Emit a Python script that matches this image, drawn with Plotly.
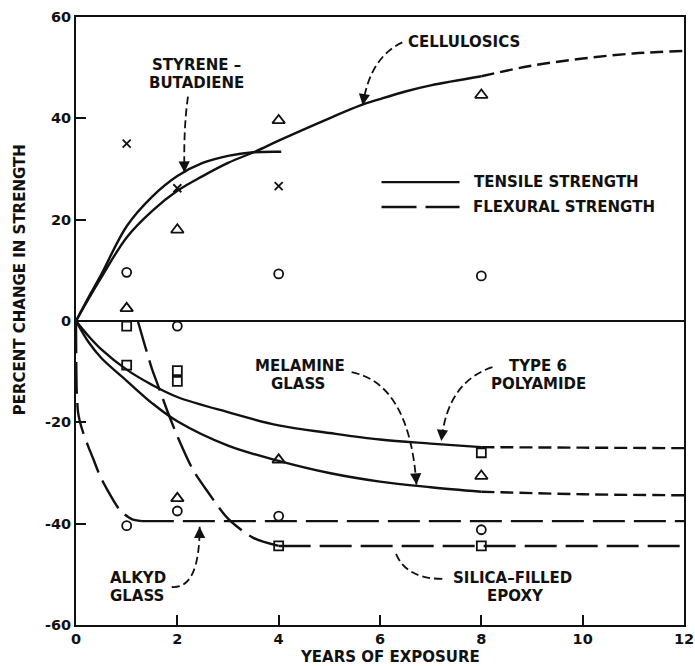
import plotly.graph_objects as go

# ---------------- data ----------------
x_ticks = [0, 2, 4, 6, 8, 10, 12]
x_tick_labels = ["0", "2", "4", "6", "8", "10", "12"]
y_ticks = [-60, -40, -20, 0, 20, 40, 60]
y_tick_labels = ["-60", "-40", "-20", "0", "20", "40", "60"]

cell_solid_x = [0, 0.25, 0.5, 1, 1.5, 2, 2.5, 3, 3.55, 4, 5, 5.6, 6, 6.5, 7, 8]
cell_solid_y = [0, 4.4, 8.6, 16.5, 21.7, 25.7, 28.6, 31.2, 33.5, 35.6, 40.0, 42.5, 43.8, 45.3, 46.5, 48.3]
cell_dash_x = [8, 9, 10, 11, 12]
cell_dash_y = [48.3, 50.4, 51.8, 52.8, 53.3]

styrene_x = [0, 0.25, 0.5, 1, 1.5, 2, 2.5, 3, 3.5, 4.05]
styrene_y = [0, 4.7, 9.2, 18.7, 24.5, 28.6, 31.2, 32.6, 33.3, 33.4]

polyamide_solid_x = [0, 0.25, 0.5, 1, 1.5, 2, 3, 4, 5, 6, 7, 8]
polyamide_solid_y = [0, -3.0, -5.6, -9.6, -12.6, -15.0, -18.0, -20.6, -22.1, -23.4, -24.2, -24.9]
polyamide_dash_x = [8, 10, 12]
polyamide_dash_y = [-24.9, -25.0, -25.1]

melamine_solid_x = [0, 0.25, 0.5, 1, 1.5, 2, 3, 4, 5, 6, 7, 8]
melamine_solid_y = [0, -4.2, -7.3, -11.8, -16.2, -19.8, -24.6, -27.6, -30.0, -31.7, -32.8, -33.7]
melamine_dash_x = [8, 10, 12]
melamine_dash_y = [-33.7, -34.2, -34.4]

alkyd_curve_x = [0, 0.005, 0.015, 0.04, 0.08, 0.14, 0.25, 0.34, 0.47, 0.6, 0.87, 1.1, 1.3]
alkyd_curve_y = [0, -8, -14, -18, -20, -22, -25, -27.2, -30.5, -33, -37.4, -39.1, -39.5]
alkyd_flat_x = [1.3, 12]
alkyd_flat_y = [-39.5, -39.5]

epoxy_curve_x = [1.22, 1.35, 1.5, 1.6, 1.85, 2.05, 2.3, 2.6, 3.0, 3.5, 4]
epoxy_curve_y = [0, -4.5, -9.5, -12.2, -19, -23.9, -29.2, -33.7, -39.0, -42.8, -44.4]
epoxy_flat_x = [4, 12]
epoxy_flat_y = [-44.4, -44.4]

cross_x = [1, 2, 4]
cross_y = [35, 26.2, 26.6]
triangle_x = [1, 2, 4, 8, 2, 4, 8]
triangle_y = [2.5, 18, 39.6, 44.6, -35, -27.4, -30.6]
circle_x = [1, 4, 8, 2, 1, 2, 4, 8]
circle_y = [9.6, 9.3, 8.9, -1, -40.4, -37.5, -38.5, -41.2]
square_x = [1, 1, 2, 2, 4, 8, 8]
square_y = [-1, -8.7, -9.8, -11.9, -44.4, -26, -44.4]

# callout labels: (text, x, y)
labels = [
    ("STYRENE –", 2.38, 50.5),
    ("BUTADIENE", 2.38, 46.9),
    ("MELAMINE", 4.43, -8.9),
    ("GLASS", 4.39, -12.4),
    ("TYPE 6", 9.12, -8.9),
    ("POLYAMIDE", 9.12, -12.4),
    ("ALKYD", 1.23, -50.7),
    ("GLASS", 1.21, -54.3),
    ("SILICA–FILLED", 8.62, -50.7),
    ("EPOXY", 8.68, -54.3),
]
# callout arrows: start, control, tip
callouts = [
    ((2.21, 44.3), (2.12, 38.0), (2.14, 29.3)),
    ((6.44, 55.0), (5.80, 52.0), (5.66, 42.6)),
    ((5.44, -10.1), (6.58, -12.4), (6.72, -32.3)),
    ((8.22, -9.1), (7.33, -12.0), (7.21, -23.7)),
    ((1.89, -52.5), (2.44, -53.0), (2.44, -40.6)),
    ((7.23, -50.9), (6.48, -50.9), (6.29, -45.3)),
]

BLACK = "#111111"
FONT = dict(family="DejaVu Sans", size=15, color=BLACK, weight="bold")
LONG_DASH = "32px,9px"
SHORT_DASH = "13px,6px"
LW = 2.4

fig = go.Figure()


def curve(x, y, dash="solid", smoothing=1.0, shape="spline"):
    fig.add_trace(go.Scatter(
        x=x, y=y, mode="lines",
        line=dict(color=BLACK, width=LW, dash=dash, shape=shape, smoothing=smoothing),
        hoverinfo="skip", showlegend=False))


curve(cell_solid_x, cell_solid_y)
curve(cell_dash_x, cell_dash_y, SHORT_DASH)
curve(styrene_x, styrene_y)
curve(polyamide_solid_x, polyamide_solid_y)
curve(polyamide_dash_x, polyamide_dash_y, SHORT_DASH)
curve(melamine_solid_x, melamine_solid_y)
curve(melamine_dash_x, melamine_dash_y, SHORT_DASH)
curve(alkyd_curve_x, alkyd_curve_y, LONG_DASH, 0.6)
curve(alkyd_flat_x, alkyd_flat_y, LONG_DASH, shape="linear")
curve(epoxy_curve_x, epoxy_curve_y, LONG_DASH, 0.8)
curve(epoxy_flat_x, epoxy_flat_y, LONG_DASH, shape="linear")


def markers(x, y, symbol, size):
    fig.add_trace(go.Scatter(
        x=x, y=y, mode="markers",
        marker=dict(symbol=symbol, size=size, color=BLACK,
                    line=dict(color=BLACK, width=1.8)),
        hoverinfo="skip", showlegend=False))


markers(cross_x, cross_y, "x-thin-open", 8)
markers(triangle_x, triangle_y, "triangle-up-open", 11)
markers(circle_x, circle_y, "circle-open", 9)
markers(square_x, square_y, "square-open", 9)

shapes = []
annotations = []

for (sx, sy), (cx, cy), (ex, ey) in callouts:
    shapes.append(dict(type="path", xref="x", yref="y",
                       path=f"M {sx},{sy} Q {cx},{cy} {ex},{ey}",
                       line=dict(color=BLACK, width=1.8, dash="8px,4px")))
    t = 0.12
    annotations.append(dict(x=ex, y=ey, xref="x", yref="y",
                            ax=ex - t * (ex - cx), ay=ey - t * (ey - cy),
                            axref="x", ayref="y", text="", showarrow=True,
                            arrowhead=2, arrowsize=1.4, arrowwidth=1.6,
                            arrowcolor=BLACK, standoff=0))

for txt, lx, ly in labels:
    annotations.append(dict(x=lx, y=ly, xref="x", yref="y", text=txt,
                            showarrow=False, font=FONT, xanchor="center", yanchor="middle"))

annotations.append(dict(x=6.52, y=55.0, xref="x", yref="y", text="CELLULOSICS",
                        showarrow=False, font=FONT, xanchor="left", yanchor="middle"))

# legend key
shapes.append(dict(type="line", xref="x", yref="y", x0=6.03, x1=7.57, y0=27.4, y1=27.4,
                   line=dict(color=BLACK, width=LW)))
shapes.append(dict(type="line", xref="x", yref="y", x0=6.03, x1=7.57, y0=22.5, y1=22.5,
                   line=dict(color=BLACK, width=LW, dash="35px,9px")))
annotations.append(dict(x=7.82, y=27.4, xref="x", yref="y", text="TENSILE STRENGTH",
                        showarrow=False, font=FONT, xanchor="left", yanchor="middle"))
annotations.append(dict(x=7.80, y=22.5, xref="x", yref="y", text="FLEXURAL STRENGTH",
                        showarrow=False, font=FONT, xanchor="left", yanchor="middle"))

# axis titles
annotations.append(dict(x=-0.092, y=0.567, xref="paper", yref="paper",
                        text="PERCENT CHANGE IN STRENGTH", textangle=-90,
                        showarrow=False, font=FONT, xanchor="center", yanchor="middle"))
annotations.append(dict(x=0.516, y=-0.053, xref="paper", yref="paper",
                        text="YEARS OF EXPOSURE",
                        showarrow=False, font=FONT, xanchor="center", yanchor="middle"))

TICK_FONT = dict(family="DejaVu Sans", size=14.5, color=BLACK, weight="bold")
axis_common = dict(showgrid=False, showline=True, linecolor=BLACK, linewidth=2,
                   mirror=True, ticks="inside", ticklen=10, tickwidth=2, tickcolor=BLACK,
                   tickfont=TICK_FONT, automargin=False, ticklabeloverflow="allow")

fig.update_layout(
    width=695, height=666,
    autosize=False,
    margin=dict(l=76, r=11, t=17, b=41, autoexpand=False),
    paper_bgcolor="white", plot_bgcolor="white",
    font=FONT,
    xaxis=dict(range=[0, 12], tickvals=x_ticks, ticktext=x_tick_labels,
               zeroline=False, **axis_common),
    yaxis=dict(range=[-60, 60], tickvals=y_ticks, ticktext=y_tick_labels,
               zeroline=True, zerolinecolor=BLACK, zerolinewidth=1.6, **axis_common),
    shapes=shapes,
    annotations=annotations,
    showlegend=False,
)

# remove the page's default body margin so the figure sits at the window's corner
fig.write_html("out.html",
               config={"responsive": False, "displayModeBar": False},
               post_script="document.body.style.margin='0px';")
